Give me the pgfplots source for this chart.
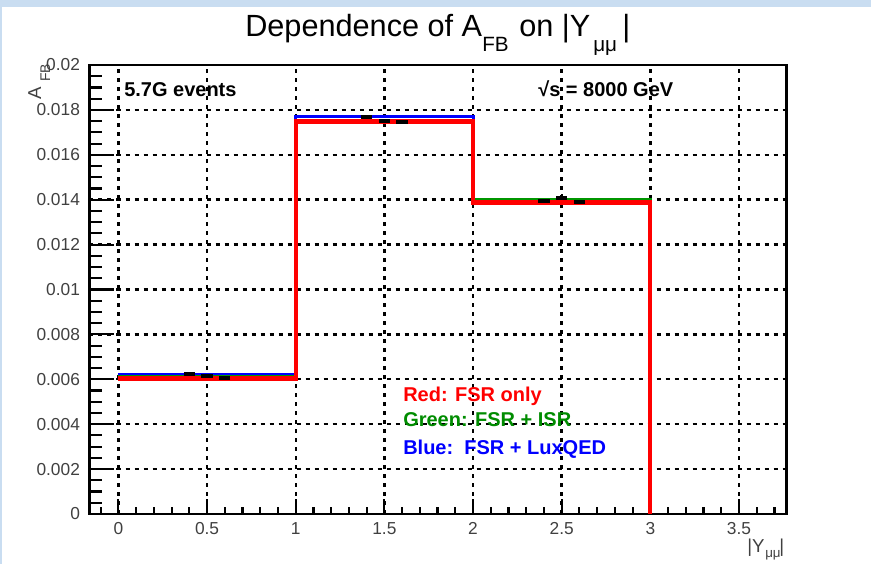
\documentclass[border=0pt]{standalone}
\usepackage{pgfplots}
\pgfplotsset{compat=1.18}
\usepackage{fontspec}
\setmainfont{Liberation Sans}
\definecolor{rootblue}{RGB}{0,0,255}
\definecolor{rootgreen}{RGB}{0,150,0}
\definecolor{textgreen}{RGB}{0,140,0}
\definecolor{rootred}{RGB}{255,0,0}
\definecolor{winblue}{RGB}{201,221,241}
\begin{document}
\begin{tikzpicture}
\begin{scope}[x=0.75pt,y=-0.75pt,shift={(0pt,423pt)}]
\fill[winblue] (0,0) rectangle (871,7);
\fill[winblue] (0,0) rectangle (2,564);
\end{scope}
\begin{axis}[
  at={(67.125pt,37.5pt)}, anchor=south west,
  scale only axis, width=522.75pt, height=336.75pt,
  xmin=-0.163, xmax=3.768, ymin=0, ymax=0.02,
  axis line style={black, line width=2.2pt},
  tick pos=left, tick align=inside,
  xtick={0,0.5,1,1.5,2,2.5,3,3.5},
  xticklabels={0,0.5,1,1.5,2,2.5,3,3.5},
  minor xtick={-0.1,0.1,0.2,0.3,0.4,0.6,0.7,0.8,0.9,1.1,1.2,1.3,1.4,1.6,1.7,1.8,1.9,2.1,2.2,2.3,2.4,2.6,2.7,2.8,2.9,3.1,3.2,3.3,3.4,3.6,3.7},
  ytick={0,0.002,0.004,0.006,0.008,0.01,0.012,0.014,0.016,0.018,0.02},
  yticklabels={0,0.002,0.004,0.006,0.008,0.01,0.012,0.014,0.016,0.018,0.02},
  minor ytick={0.0005,0.001,0.0015,0.0025,0.003,0.0035,0.0045,0.005,0.0055,0.0065,0.007,0.0075,0.0085,0.009,0.0095,0.0105,0.011,0.0115,0.0125,0.013,0.0135,0.0145,0.015,0.0155,0.0165,0.017,0.0175,0.0185,0.019,0.0195},
  scaled ticks=false,
  tick style={black, line width=1.6pt},
  xtick style={/pgfplots/major tick length=11pt,/pgfplots/minor tick length=5.5pt},
  ytick style={/pgfplots/major tick length=18pt,/pgfplots/minor tick length=9pt},
  grid=major,
  major grid style={black, line width=1.8pt, dash pattern=on 3pt off 3.75pt},
  xticklabel style={font=\fontsize{13}{15}\selectfont, text=black!75, inner sep=0pt, anchor=north, yshift=-6pt},
  yticklabel style={font=\fontsize{13}{15}\selectfont, text=black!75, inner sep=0pt, anchor=east, xshift=-7pt},
]
% blue: FSR + LuxQED
\addplot[const plot, draw=rootblue, line width=2.25pt, mark=none] coordinates {(0,0.00621) (1,0.01770) (2,0.01390) (3,0)};
\addplot[only marks, mark=-, mark size=4.2pt, mark options={black, line width=3pt}] coordinates {(0.4,0.00625) (1.4,0.01770) (2.4,0.01392)};
% green: FSR + ISR
\addplot[const plot, draw=rootgreen, line width=2.25pt, mark=none] coordinates {(0,0.00612) (1,0.01750) (2,0.01401) (3,0)};
\addplot[only marks, mark=-, mark size=4.2pt, mark options={black, line width=3pt},
  error bars/.cd, y dir=both, y explicit, error bar style={black, line width=1.5pt}, error mark=none]
  coordinates {(0.5,0.00616) +- (0,0) (1.5,0.01752) +- (0,0) (2.5,0.01408) +- (0,0.00017)};
% red: FSR only
\addplot[const plot, draw=rootred, line width=3.2pt, mark=none] coordinates {(0,0.00604) (1,0.01748) (2,0.01387) (3,0)};
\addplot[only marks, mark=-, mark size=4.2pt, mark options={black, line width=3pt}] coordinates {(0.6,0.00605) (1.6,0.01747) (2.6,0.01390)};
\end{axis}
\begin{scope}[x=0.75pt,y=-0.75pt,shift={(0pt,423pt)}]
% title
\node[anchor=base west, inner sep=0pt, font=\fontsize{23}{27}\selectfont] at (245,37) {Dependence of A};
\node[anchor=base west, inner sep=0pt, font=\fontsize{15.5}{18}\selectfont] at (482,52) {FB};
\node[anchor=base west, inner sep=0pt, font=\fontsize{23}{27}\selectfont] at (519,37) {on |Y};
\node[anchor=base west, inner sep=0pt, font=\fontsize{15.5}{18}\selectfont] at (593,52) {μμ};
\node[anchor=base west, inner sep=0pt, font=\fontsize{23}{27}\selectfont] at (622,37) {|};
% axis titles
\node[anchor=base west, inner sep=0pt, rotate=90, font=\fontsize{14}{16}\selectfont, text=black!75] at (41,100) {A};
\node[anchor=base west, inner sep=0pt, rotate=90, font=\fontsize{10.5}{12}\selectfont, text=black!75] at (50,82) {FB};
\node[anchor=base west, inner sep=0pt, font=\fontsize{14}{16}\selectfont, text=black!75] at (747,552) {|Y};
\node[anchor=base west, inner sep=0pt, font=\fontsize{10}{12}\selectfont, text=black!75] at (765,557) {μμ};
\node[anchor=base west, inner sep=0pt, font=\fontsize{14}{16}\selectfont, text=black!75] at (779,552) {|};
% texts in the frame
\node[anchor=base west, inner sep=0pt, font=\bfseries\fontsize{15}{18}\selectfont] at (124,97) {5.7G events};
\node[anchor=base west, inner sep=0pt, font=\bfseries\fontsize{15}{18}\selectfont] at (538,97) {√s = 8000 GeV};
\node[anchor=base west, inner sep=0pt, font=\bfseries\fontsize{15}{18}\selectfont, text=rootred] at (403,402) {Red: FSR only};
\node[anchor=base west, inner sep=0pt, font=\bfseries\fontsize{15}{18}\selectfont, text=textgreen] at (403,427) {Green: FSR + ISR};
\node[anchor=base west, inner sep=0pt, font=\bfseries\fontsize{15}{18}\selectfont, text=rootblue] at (403,455) {Blue:\ \ FSR + LuxQED};
\end{scope}
\pgfresetboundingbox
\path[use as bounding box] (0pt,0pt) rectangle (653.25pt,423pt);
\end{tikzpicture}
\end{document}
